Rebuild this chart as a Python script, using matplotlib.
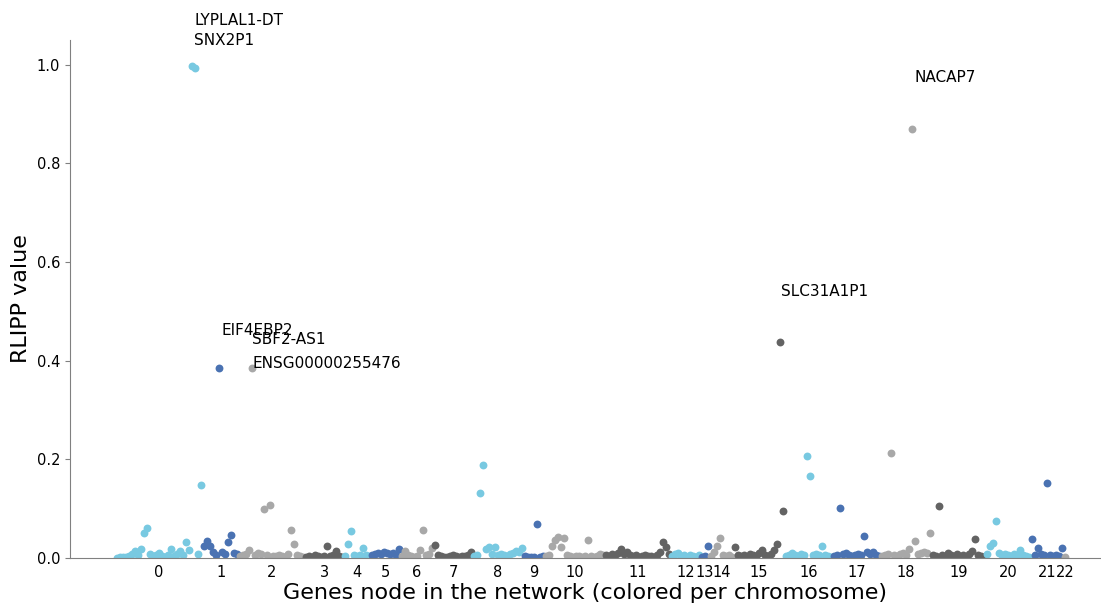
import numpy as np
import matplotlib
matplotlib.use('Agg')
import matplotlib.pyplot as plt

# RLIPP value per gene node, grouped by chromosome (genes in network order)
chr_values = [
    [0.001, 0.002, 0.002, 0.003, 0.004, 0.008, 0.014, 0.006, 0.018, 0.051, 0.061, 0.008, 0.004, 0.006, 0.010,
     0.004, 0.003, 0.006, 0.018, 0.005, 0.008, 0.014, 0.006, 0.032, 0.016, 0.998, 0.994, 0.008, 0.148],
    [0.024, 0.034, 0.024, 0.012, 0.006, 0.385, 0.012, 0.008, 0.032, 0.046, 0.010, 0.008],
    [0.004, 0.006, 0.008, 0.016, 0.385, 0.006, 0.010, 0.008, 0.099, 0.006, 0.107, 0.005, 0.004, 0.006, 0.004,
     0.003, 0.008, 0.057, 0.028, 0.006, 0.004, 0.003],
    [0.002, 0.004, 0.003, 0.006, 0.004, 0.002, 0.005, 0.024, 0.004, 0.006, 0.014, 0.004, 0.003],
    [0.004, 0.028, 0.055, 0.006, 0.004, 0.006, 0.020, 0.006, 0.004],
    [0.006, 0.008, 0.010, 0.008, 0.012, 0.010, 0.008, 0.010, 0.006, 0.018],
    [0.004, 0.014, 0.006, 0.004, 0.003, 0.005, 0.016, 0.057, 0.006, 0.008, 0.020],
    [0.026, 0.006, 0.004, 0.003, 0.002, 0.004, 0.006, 0.004, 0.003, 0.005, 0.004, 0.006, 0.012],
    [0.004, 0.006, 0.131, 0.188, 0.018, 0.022, 0.008, 0.022, 0.006, 0.008, 0.006, 0.004, 0.008, 0.010, 0.014,
     0.012, 0.020],
    [0.004, 0.003, 0.002, 0.003, 0.069, 0.002, 0.004],
    [0.004, 0.006, 0.024, 0.036, 0.042, 0.022, 0.040, 0.006, 0.004, 0.003, 0.004, 0.005, 0.003, 0.004, 0.036,
     0.004, 0.003, 0.005, 0.008, 0.006],
    [0.006, 0.004, 0.008, 0.006, 0.010, 0.018, 0.008, 0.012, 0.006, 0.004, 0.006, 0.003, 0.004, 0.006, 0.005,
     0.004, 0.003, 0.006, 0.012, 0.032, 0.022, 0.008],
    [0.004, 0.008, 0.010, 0.004, 0.006, 0.003, 0.006, 0.004, 0.003, 0.006],
    [0.003, 0.004, 0.024],
    [0.004, 0.012, 0.024, 0.040, 0.006, 0.004, 0.006, 0.003],
    [0.022, 0.006, 0.004, 0.006, 0.003, 0.008, 0.006, 0.004, 0.010, 0.016, 0.006, 0.004, 0.008, 0.016, 0.028,
     0.437, 0.095],
    [0.004, 0.006, 0.010, 0.006, 0.004, 0.008, 0.006, 0.207, 0.166, 0.006, 0.008, 0.006, 0.024, 0.006, 0.004,
     0.003],
    [0.004, 0.006, 0.101, 0.008, 0.010, 0.006, 0.004, 0.006, 0.008, 0.006, 0.045, 0.012, 0.008, 0.012, 0.006,
     0.004],
    [0.004, 0.006, 0.008, 0.213, 0.006, 0.004, 0.008, 0.010, 0.006, 0.018, 0.870, 0.034, 0.008, 0.010, 0.012,
     0.010, 0.051],
    [0.006, 0.004, 0.105, 0.006, 0.004, 0.010, 0.006, 0.004, 0.008, 0.004, 0.006, 0.003, 0.008, 0.014, 0.038,
     0.006, 0.004, 0.003],
    [0.008, 0.024, 0.030, 0.075, 0.010, 0.006, 0.008, 0.006, 0.004, 0.008, 0.006, 0.016, 0.006, 0.004, 0.003],
    [0.038, 0.006, 0.020, 0.008, 0.006, 0.152, 0.006, 0.004, 0.006, 0.004, 0.020],
    [0.002],
]
chr_names = [str(i) for i in range(len(chr_values))]

# top genes: (name, chromosome, index inside chromosome, text offset x, text offset y)
gene_labels = [
    ("LYPLAL1-DT", 0, 25, 0.7, 0.091),
    ("SNX2P1", 0, 26, -0.3, 0.055),
    ("EIF4EBP2", 1, 5, 0.7, 0.077),
    ("SBF2-AS1", 2, 4, 0.0, 0.058),
    ("ENSG00000255476", 2, 4, 0.0, 0.010),
    ("SLC31A1P1", 15, 15, 0.3, 0.103),
    ("NACAP7", 18, 10, 1.0, 0.104),
]

palette = ['#78c9e1', '#4a72b2', '#a8a8a8', '#636363']


def plot_rlipp():
    fig = plt.figure(figsize=(11.01, 6.05), dpi=100)
    ax = fig.add_axes([70 / 1101, 47 / 605, 1030 / 1101, 518 / 605])

    starts = []
    ticks = []
    pos = 0
    for c, vals in enumerate(chr_values):
        x = np.arange(pos, pos + len(vals))
        ax.scatter(x, vals, s=32, color=palette[c % 4], linewidths=0, zorder=2)
        starts.append(pos)
        ticks.append((x[0] + x[-1]) / 2)
        pos += len(vals)

    for name, c, i, dx, dy in gene_labels:
        gx = starts[c] + i
        gy = chr_values[c][i]
        ax.text(gx + dx, gy + dy, name, fontsize=11, ha='left', va='center')

    ax.set_xlim(-15.7, 327.7)
    ax.set_ylim(0, 1.05)
    ax.set_xticks(ticks)
    ax.set_xticklabels(chr_names, fontsize=10.5)
    ax.set_yticks([0, 0.2, 0.4, 0.6, 0.8, 1.0])
    ax.set_yticklabels(['0.0', '0.2', '0.4', '0.6', '0.8', '1.0'], fontsize=10.5)
    ax.tick_params(axis='x', length=0, pad=5)
    ax.tick_params(axis='y', length=3.5, color='#808080')

    for side in ['top', 'right']:
        ax.spines[side].set_visible(False)
    for side in ['left', 'bottom']:
        ax.spines[side].set_color('#808080')

    ax.set_xlabel('Genes node in the network (colored per chromosome)', fontsize=16, labelpad=2)
    ax.set_ylabel('RLIPP value', fontsize=16)

    fig.savefig('out.png', dpi=100)
    plt.close(fig)


def main():
    plot_rlipp()


if __name__ == "__main__":
    main()
